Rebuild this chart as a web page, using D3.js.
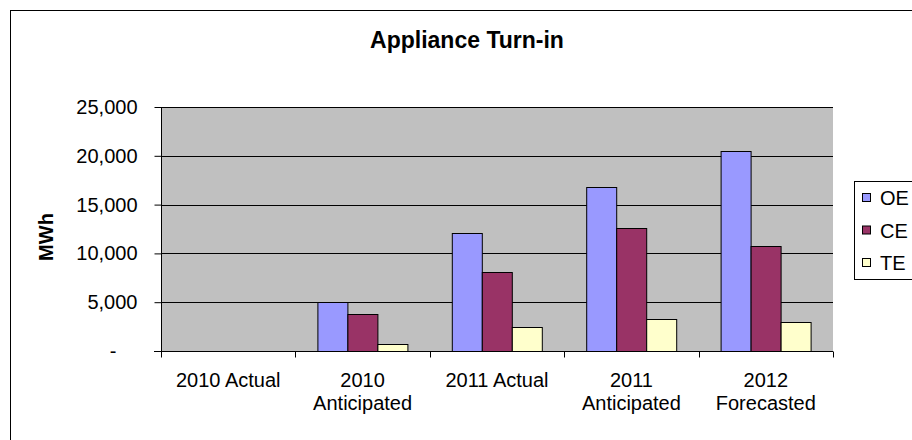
<!DOCTYPE html>
<html>
<head>
<meta charset="utf-8">
<script src="https://cdn.jsdelivr.net/npm/d3@7"></script>
<style>
  html, body { margin: 0; padding: 0; background: #fff; }
  svg { display: block; font-family: Arial, "Liberation Sans", sans-serif; }
</style>
</head>
<body>
<svg id="chart" width="912" height="440"></svg>
<script>
// Appliance Turn-in savings by period, MWh
const categories = [["2010 Actual"], ["2010", "Anticipated"], ["2011 Actual"], ["2011", "Anticipated"], ["2012", "Forecasted"]];
const seriesNames = ["OE", "CE", "TE"];
const oeValues = [0, 5050, 12100, 16850, 20500];
const ceValues = [0, 3800, 8050, 12600, 10800];
const teValues = [0, 700, 2450, 3300, 2950];
const yTicks = [0, 5000, 10000, 15000, 20000, 25000];
const seriesColors = ["#9999FF", "#993366", "#FFFFCC"];

const seriesValues = [oeValues, ceValues, teValues];
const svg = d3.select("#chart");

const plot = { left: 161, right: 833, top: 107, bottom: 351 };

// outer chart frame
svg.append("rect")
  .attr("x", 10.5).attr("y", 10.5)
  .attr("width", 920).attr("height", 460)
  .attr("fill", "#fff").attr("stroke", "#000").attr("stroke-width", 1);

// title
svg.append("text")
  .attr("x", 467).attr("y", 48)
  .attr("text-anchor", "middle")
  .attr("font-size", 23).attr("font-weight", "bold")
  .text("Appliance Turn-in");

const catKeys = categories.map((c, i) => i);
const x0 = d3.scaleBand().domain(catKeys).range([plot.left, plot.right]).paddingInner(0).paddingOuter(0);
const y = d3.scaleLinear().domain([0, 25000]).range([plot.bottom, plot.top]);
// three bars occupy 90 of each 135px slot (gap width 150%)
const x1 = d3.scaleBand().domain(seriesNames)
  .range([x0.bandwidth() * 0.5 / 3, x0.bandwidth() - x0.bandwidth() * 0.5 / 3]).padding(0);

// plot area background
svg.append("rect")
  .attr("x", plot.left).attr("y", plot.top)
  .attr("width", plot.right - plot.left).attr("height", plot.bottom - plot.top)
  .attr("fill", "#C0C0C0");

// gridlines
svg.append("g").selectAll("line")
  .data(yTicks.filter(t => t > 0))
  .join("line")
  .attr("x1", plot.left).attr("x2", plot.right)
  .attr("y1", d => Math.round(y(d)) + 0.5).attr("y2", d => Math.round(y(d)) + 0.5)
  .attr("stroke", "#000").attr("stroke-width", 1);

// bars
const groups = svg.append("g").selectAll("g")
  .data(catKeys)
  .join("g")
  .attr("transform", d => `translate(${x0(d)},0)`);

groups.selectAll("rect")
  .data(i => seriesNames.map((s, k) => ({ s, k, v: seriesValues[k][i] })).filter(d => d.v > 0))
  .join("rect")
  .attr("x", d => Math.round(x1(d.s)) + 0.5)
  .attr("y", d => Math.round(y(d.v)) + 0.5)
  .attr("width", Math.round(x1.bandwidth()))
  .attr("height", d => Math.round(plot.bottom - y(d.v)))
  .attr("fill", d => seriesColors[d.k])
  .attr("stroke", "#000").attr("stroke-width", 1);

// y axis (accounting style: zero shown as a dash set in from the right)
const yAxis = d3.axisLeft(y).tickValues(yTicks).tickSize(7).tickPadding(17)
  .tickFormat(d => d === 0 ? "-" : d3.format(",")(d));
const ya = svg.append("g").attr("transform", `translate(${plot.left + 0.5},0)`).call(yAxis);
ya.select(".domain").attr("stroke", "#000").attr("d", `M0,${plot.top}V${plot.bottom}`);
ya.selectAll(".tick line").attr("stroke", "#000");
ya.selectAll(".tick text")
  .attr("font-size", 20)
  .attr("font-family", "Arial, 'Liberation Sans', sans-serif")
  .attr("fill", "#000")
  .attr("dx", d => d === 0 ? -21 : 0);

// x axis
const xa = svg.append("g").attr("transform", `translate(0,${plot.bottom + 0.5})`);
xa.append("line").attr("x1", plot.left - 7).attr("x2", plot.right).attr("stroke", "#000");
xa.selectAll("line.tk")
  .data(catKeys.concat([categories.length]))
  .join("line").attr("class", "tk")
  .attr("x1", d => Math.round(d < categories.length ? x0(d) : plot.right) + 0.5)
  .attr("x2", d => Math.round(d < categories.length ? x0(d) : plot.right) + 0.5)
  .attr("y1", 0).attr("y2", 6)
  .attr("stroke", "#000");
const labels = xa.selectAll("text")
  .data(catKeys)
  .join("text")
  .attr("text-anchor", "middle")
  .attr("font-size", 20)
  .attr("transform", d => `translate(${x0(d) + x0.bandwidth() / 2},35)`);
labels.selectAll("tspan")
  .data(d => categories[d])
  .join("tspan")
  .attr("x", 0)
  .attr("dy", (d, i) => i === 0 ? 0 : 23)
  .text(d => d);

// y axis title
svg.append("text")
  .attr("transform", "translate(53,237) rotate(-90)")
  .attr("text-anchor", "middle")
  .attr("font-size", 20).attr("font-weight", "bold")
  .text("MWh");

// legend
const legend = svg.append("g");
legend.append("rect")
  .attr("x", 854.5).attr("y", 181.5)
  .attr("width", 80).attr("height", 98)
  .attr("fill", "#fff").attr("stroke", "#000");
const items = legend.selectAll("g")
  .data(seriesNames)
  .join("g")
  .attr("transform", (d, i) => `translate(862,${198 + i * 32.5})`);
items.append("rect")
  .attr("x", 0.5).attr("y", -4.5).attr("width", 8).attr("height", 8)
  .attr("fill", (d, i) => seriesColors[i]).attr("stroke", "#000");
items.append("text")
  .attr("x", 18).attr("y", 7)
  .attr("font-size", 20)
  .text(d => d);
</script>
</body>
</html>
